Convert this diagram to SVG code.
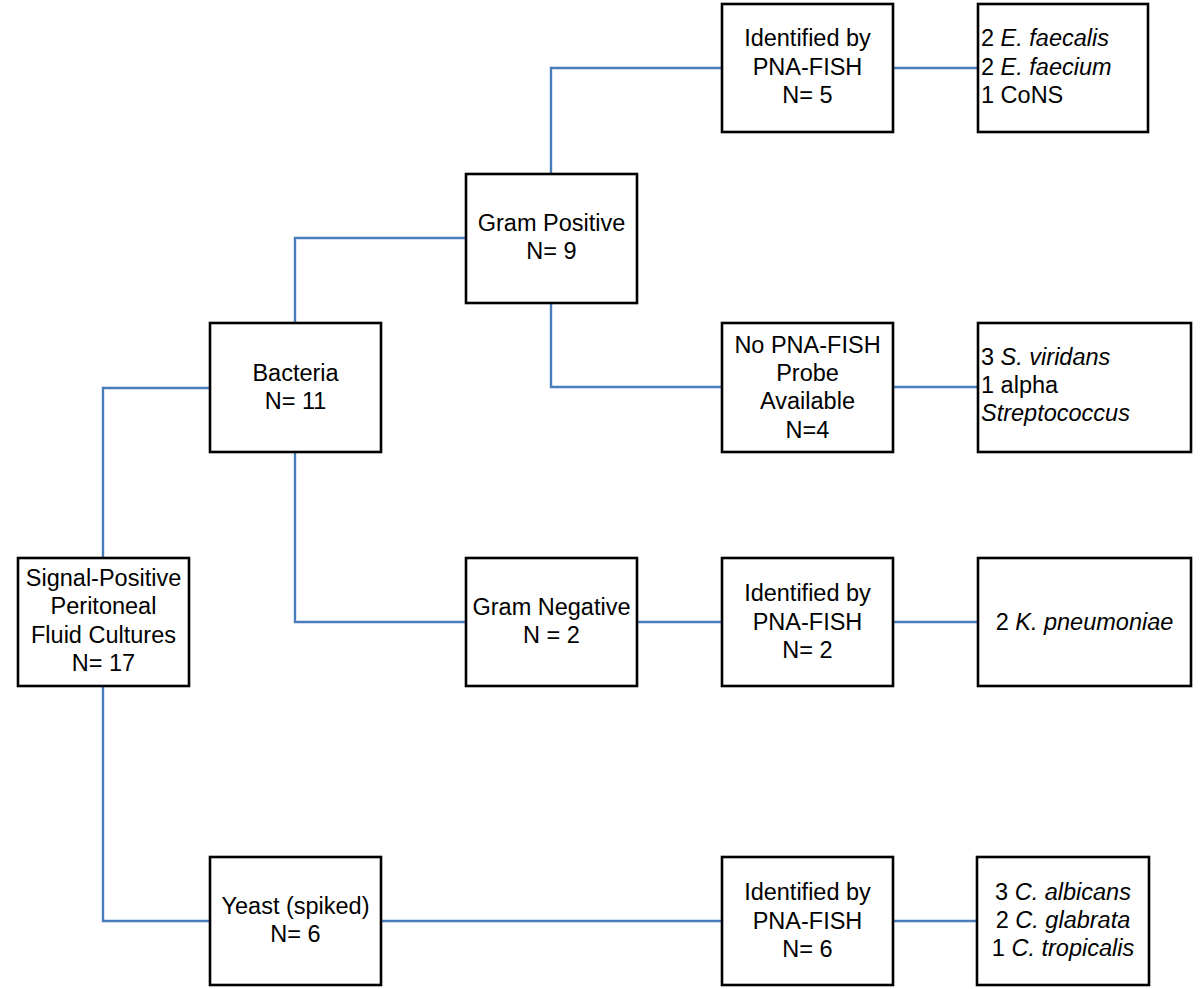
<svg xmlns="http://www.w3.org/2000/svg" width="1200" height="989" viewBox="0 0 1200 989">
<style>
.box{fill:#fff;stroke:#000;stroke-width:2.6}
.t{font-family:"Liberation Sans",Arial,sans-serif;font-size:23.5px;fill:#000}
.c{text-anchor:middle}
.i{font-style:italic}
.con{fill:none;stroke:#4a7ebb;stroke-width:2.4}
</style>
<rect width="1200" height="989" fill="#fff"/>
<g id="connectors">
<path class="con" d="M103,558 V388 H210"/>
<path class="con" d="M103,686 V921 H210"/>
<path class="con" d="M295,323 V238 H466"/>
<path class="con" d="M295,452 V622 H466"/>
<path class="con" d="M551,174 V68 H722"/>
<path class="con" d="M551,303 V387 H722"/>
<path class="con" d="M893,68 H978"/>
<path class="con" d="M893,387 H978"/>
<path class="con" d="M637,622 H722"/>
<path class="con" d="M893,622 H978"/>
<path class="con" d="M381,921 H722"/>
<path class="con" d="M893,921 H977"/>
</g>
<g id="signal">
<rect class="box" x="18" y="558" width="171" height="128"/>
<text class="t c" x="103.5"><tspan x="103.5" y="586">Signal-Positive</tspan><tspan x="103.5" y="614">Peritoneal</tspan><tspan x="103.5" y="643">Fluid Cultures</tspan><tspan x="103.5" y="671">N= 17</tspan></text>
</g>
<g id="bacteria">
<rect class="box" x="210" y="323" width="171" height="129"/>
<text class="t c"><tspan x="295.5" y="381">Bacteria</tspan><tspan x="295.5" y="409">N= 11</tspan></text>
</g>
<g id="gram-positive">
<rect class="box" x="466" y="174" width="171" height="129"/>
<text class="t c"><tspan x="551.5" y="231">Gram Positive</tspan><tspan x="551.5" y="259">N= 9</tspan></text>
</g>
<g id="identified-5">
<rect class="box" x="722" y="4" width="171" height="128"/>
<text class="t c"><tspan x="807.5" y="46">Identified by</tspan><tspan x="807.5" y="75">PNA-FISH</tspan><tspan x="807.5" y="103">N= 5</tspan></text>
</g>
<g id="result-enterococcus">
<rect class="box" x="978" y="4" width="170" height="128"/>
<text class="t"><tspan x="981" y="46">2 <tspan class="i">E. faecalis</tspan></tspan><tspan x="981" y="75">2 <tspan class="i">E. faecium</tspan></tspan><tspan x="981" y="103">1 CoNS</tspan></text>
</g>
<g id="no-probe">
<rect class="box" x="722" y="323" width="171" height="129"/>
<text class="t c"><tspan x="807.5" y="353">No PNA-FISH</tspan><tspan x="807.5" y="381">Probe</tspan><tspan x="807.5" y="409">Available</tspan><tspan x="807.5" y="438">N=4</tspan></text>
</g>
<g id="result-strep">
<rect class="box" x="978" y="323" width="213" height="129"/>
<text class="t"><tspan x="981" y="365">3 <tspan class="i">S. viridans</tspan></tspan><tspan x="981" y="393">1 alpha</tspan><tspan x="981" y="421" class="i">Streptococcus</tspan></text>
</g>
<g id="gram-negative">
<rect class="box" x="466" y="558" width="171" height="128"/>
<text class="t c"><tspan x="551.5" y="615">Gram Negative</tspan><tspan x="551.5" y="643">N = 2</tspan></text>
</g>
<g id="identified-2">
<rect class="box" x="722" y="558" width="171" height="128"/>
<text class="t c"><tspan x="807.5" y="601">Identified by</tspan><tspan x="807.5" y="630">PNA-FISH</tspan><tspan x="807.5" y="658">N= 2</tspan></text>
</g>
<g id="result-kleb">
<rect class="box" x="978" y="558" width="213" height="128"/>
<text class="t c" x="1084.5" y="630">2 <tspan class="i">K. pneumoniae</tspan></text>
</g>
<g id="yeast">
<rect class="box" x="210" y="857" width="171" height="128"/>
<text class="t c"><tspan x="295.5" y="914">Yeast (spiked)</tspan><tspan x="295.5" y="942">N= 6</tspan></text>
</g>
<g id="identified-6">
<rect class="box" x="722" y="857" width="171" height="128"/>
<text class="t c"><tspan x="807.5" y="900">Identified by</tspan><tspan x="807.5" y="929">PNA-FISH</tspan><tspan x="807.5" y="957">N= 6</tspan></text>
</g>
<g id="result-candida">
<rect class="box" x="977" y="857" width="172" height="128"/>
<text class="t c"><tspan x="1063" y="900">3 <tspan class="i">C. albicans</tspan></tspan><tspan x="1063" y="928">2 <tspan class="i">C. glabrata</tspan></tspan><tspan x="1063" y="956">1 <tspan class="i">C. tropicalis</tspan></tspan></text>
</g>
</svg>
